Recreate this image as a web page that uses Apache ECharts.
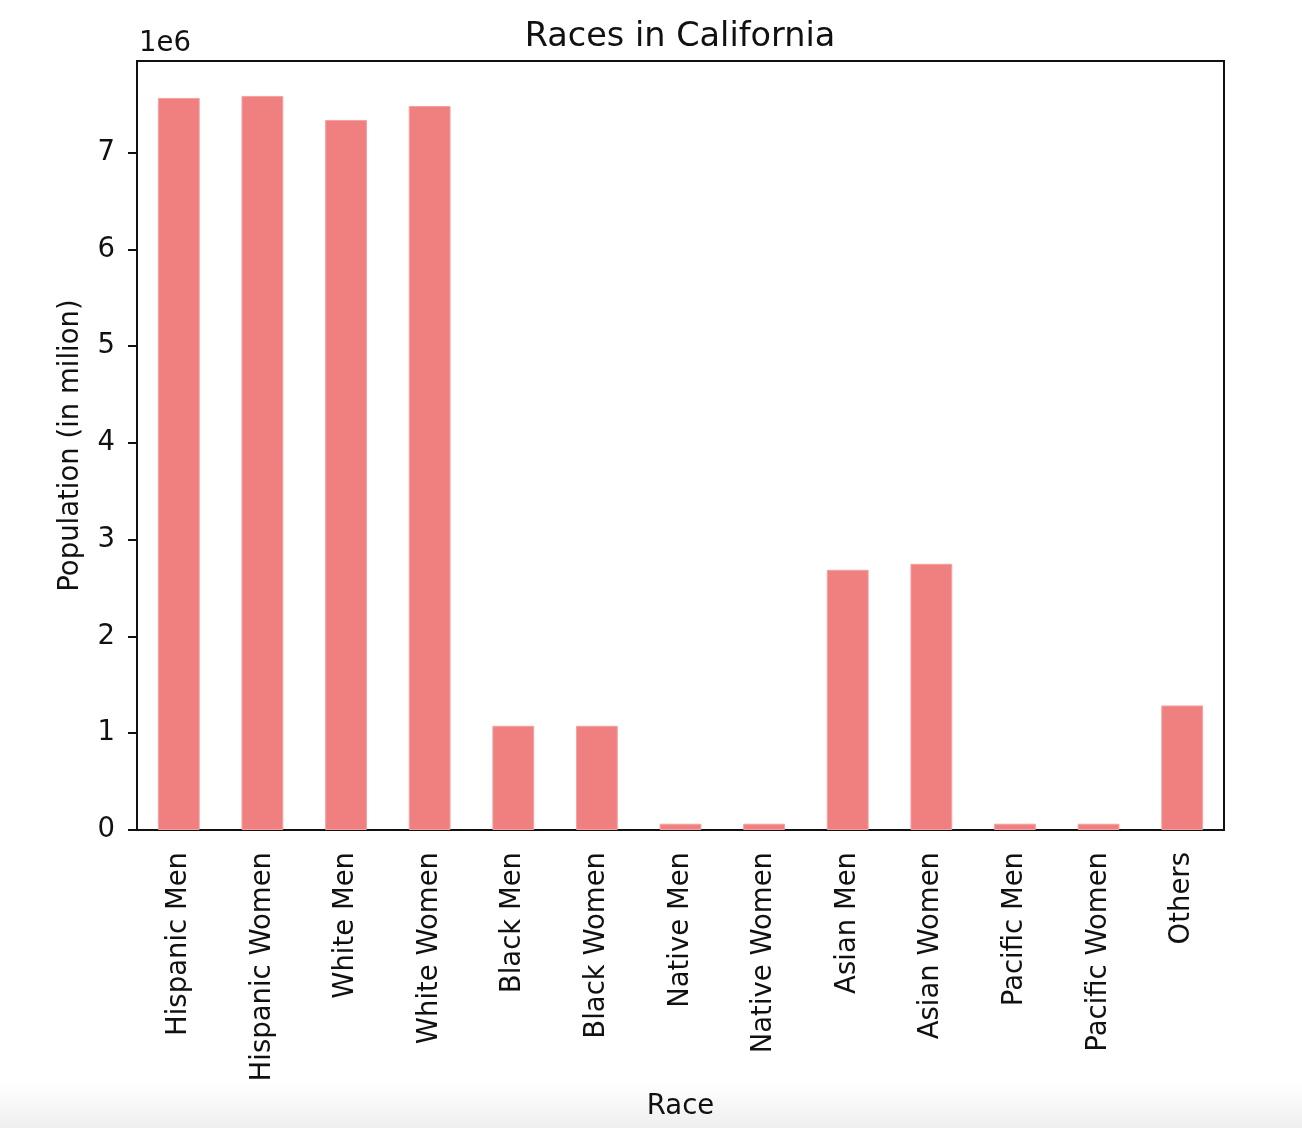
<!DOCTYPE html>
<html>
<head>
<meta charset="utf-8">
<script src="https://cdn.jsdelivr.net/npm/echarts@6/dist/echarts.min.js"></script>
<style>
  html, body { margin: 0; padding: 0; background: #fff; }
  #chart { width: 1302px; height: 1128px; }
</style>
</head>
<body>
<div id="chart"></div>
<script>
// data
var categories = ['Hispanic Men', 'Hispanic Women', 'White Men', 'White Women', 'Black Men', 'Black Women',
  'Native Men', 'Native Women', 'Asian Men', 'Asian Women', 'Pacific Men', 'Pacific Women', 'Others'];
var population = [7565000, 7586000, 7338000, 7482000, 1077000, 1077000,
  65000, 65000, 2689000, 2751000, 65000, 65000, 1287000];
var yTicks = [0, 1000000, 2000000, 3000000, 4000000, 5000000, 6000000, 7000000];

var font = 'DejaVu Sans';
var ink = '#111';
var fs = 27.5;

var chart = echarts.init(document.getElementById('chart'));
chart.setOption({
  animation: false,
  backgroundColor: '#fff',
  title: {
    text: 'Races in California',
    left: 675,
    top: 15,
    textAlign: 'center',
    textStyle: { fontFamily: font, fontSize: 33.5, fontWeight: 'normal', color: ink }
  },
  grid: {
    left: 137, right: 78, top: 61, bottom: 298,
    show: true, borderColor: '#111', borderWidth: 2, backgroundColor: 'transparent'
  },
  graphic: [
    {
      type: 'rect', z: -10, silent: true,
      shape: { x: 0, y: 1082, width: 1302, height: 46 },
      style: {
        fill: new echarts.graphic.LinearGradient(0, 0, 0, 1, [
          { offset: 0, color: '#ffffff' }, { offset: 1, color: '#efefef' }
        ])
      }
    },
    {
      type: 'text', left: 139, top: 30,
      style: { text: '1e6', font: fs + 'px "DejaVu Sans"', fill: ink }
    }
  ],
  xAxis: {
    type: 'category',
    data: categories,
    name: 'Race',
    nameLocation: 'middle',
    nameGap: 263,
    nameTextStyle: { fontFamily: font, fontSize: fs, color: ink },
    axisLine: { lineStyle: { color: '#111', width: 2 } },
    axisTick: { alignWithLabel: true, length: 9, lineStyle: { color: '#111', width: 2 } },
    axisLabel: { rotate: 90, margin: 22, interval: 0, fontFamily: font, fontSize: fs, color: ink }
  },
  yAxis: {
    type: 'value',
    min: 0,
    max: 7947000,
    name: 'Population (in milion)',
    nameLocation: 'middle',
    nameGap: 52,
    nameTextStyle: { fontFamily: font, fontSize: fs, color: ink },
    splitLine: { show: false },
    axisLine: { show: true, lineStyle: { color: '#111', width: 2 } },
    axisTick: { show: true, length: 9, customValues: yTicks, lineStyle: { color: '#111', width: 2 } },
    axisLabel: {
      margin: 22, fontFamily: font, fontSize: fs, color: ink,
      customValues: yTicks,
      formatter: function (v) { return String(Math.round(v / 1e6)); }
    }
  },
  series: [{
    type: 'bar',
    data: population,
    barWidth: '50%',
    itemStyle: { color: '#f08080', borderColor: '#f4a0a0', borderWidth: 1 }
  }]
});
</script>
</body>
</html>
